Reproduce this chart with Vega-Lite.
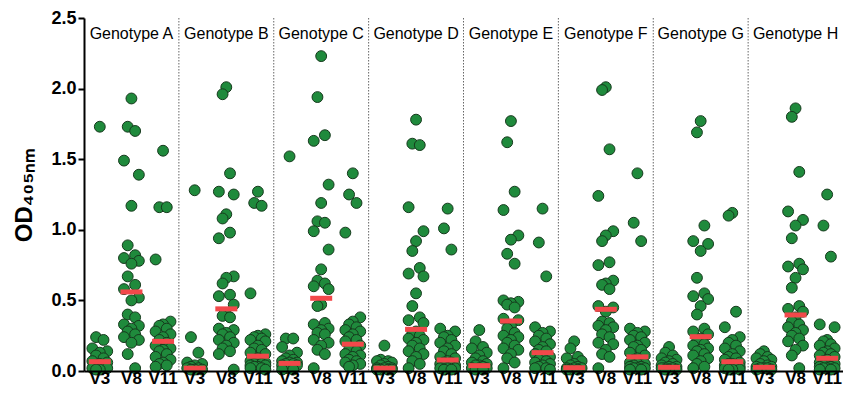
{
  "$schema": "https://vega.github.io/schema/vega-lite/v6.json",
  "width": 759,
  "height": 353,
  "autosize": {"type": "none"},
  "padding": {"left": 84, "top": 18, "right": 0, "bottom": 26},
  "background": "white",
  "config": {"view": {"stroke": null}, "font": "Liberation Sans"},
  "datasets": {
    "seps": [{"k": "A-V11"}, {"k": "B-V11"}, {"k": "C-V11"}, {"k": "D-V11"}, {"k": "E-V11"}, {"k": "F-V11"}, {"k": "G-V11"}],
    "labels": [
      {"k": "A-V8", "label": "Genotype A"}, {"k": "B-V8", "label": "Genotype B"},
      {"k": "C-V8", "label": "Genotype C"}, {"k": "D-V8", "label": "Genotype D"},
      {"k": "E-V8", "label": "Genotype E"}, {"k": "F-V8", "label": "Genotype F"},
      {"k": "G-V8", "label": "Genotype G"}, {"k": "H-V8", "label": "Genotype H"}
    ],
    "medians": [
      {"k": "A-V3", "med": 0.066}, {"k": "A-V8", "med": 0.56}, {"k": "A-V11", "med": 0.21},
      {"k": "B-V3", "med": 0.02}, {"k": "B-V8", "med": 0.44}, {"k": "B-V11", "med": 0.105},
      {"k": "C-V3", "med": 0.054}, {"k": "C-V8", "med": 0.515}, {"k": "C-V11", "med": 0.19},
      {"k": "D-V3", "med": 0.02}, {"k": "D-V8", "med": 0.295}, {"k": "D-V11", "med": 0.078},
      {"k": "E-V3", "med": 0.038}, {"k": "E-V8", "med": 0.354}, {"k": "E-V11", "med": 0.13},
      {"k": "F-V3", "med": 0.023}, {"k": "F-V8", "med": 0.437}, {"k": "F-V11", "med": 0.10},
      {"k": "G-V3", "med": 0.026}, {"k": "G-V8", "med": 0.243}, {"k": "G-V11", "med": 0.066},
      {"k": "H-V3", "med": 0.026}, {"k": "H-V8", "med": 0.397}, {"k": "H-V11", "med": 0.09}
    ],
    "points": [
      {"k": "A-V3", "od": [1.73, 0.24, 0.22, 0.16, 0.14, 0.13, 0.11, 0.09, 0.07, 0.06, 0.05, 0.04, 0.03, 0.02, 0.02, 0.01, 0.01]},
      {"k": "A-V8", "od": [1.93, 1.73, 1.70, 1.49, 1.39, 1.17, 0.89, 0.82, 0.80, 0.78, 0.76, 0.67, 0.61, 0.58, 0.52, 0.50, 0.40, 0.38, 0.33, 0.32, 0.30, 0.28, 0.26, 0.24, 0.22, 0.20, 0.12, 0.02]},
      {"k": "A-V11", "od": [1.56, 1.16, 1.16, 0.79, 0.35, 0.33, 0.32, 0.30, 0.28, 0.26, 0.24, 0.22, 0.20, 0.18, 0.16, 0.15, 0.14, 0.12, 0.10, 0.08, 0.06, 0.05, 0.04, 0.03]},
      {"k": "B-V3", "od": [1.28, 0.24, 0.13, 0.06, 0.05, 0.04, 0.03, 0.02, 0.02, 0.01, 0.01, 0.01]},
      {"k": "B-V8", "od": [2.01, 1.96, 1.40, 1.27, 1.25, 1.11, 1.08, 0.98, 0.94, 0.67, 0.66, 0.62, 0.54, 0.53, 0.47, 0.40, 0.39, 0.38, 0.30, 0.29, 0.27, 0.26, 0.24, 0.22, 0.20, 0.18, 0.16, 0.14, 0.12, 0.01]},
      {"k": "B-V11", "od": [1.27, 1.19, 1.17, 0.55, 0.26, 0.25, 0.24, 0.23, 0.22, 0.21, 0.18, 0.16, 0.15, 0.13, 0.12, 0.09, 0.08, 0.08, 0.07, 0.06, 0.06, 0.05, 0.05, 0.04, 0.04, 0.03, 0.03, 0.02, 0.02, 0.01]},
      {"k": "C-V3", "od": [1.52, 0.23, 0.23, 0.17, 0.13, 0.11, 0.09, 0.08, 0.07, 0.06, 0.06, 0.05, 0.05, 0.04, 0.04, 0.03, 0.02, 0.01, 0.01]},
      {"k": "C-V8", "od": [2.23, 1.94, 1.67, 1.63, 1.32, 1.19, 1.06, 1.05, 0.99, 0.86, 0.72, 0.64, 0.62, 0.60, 0.58, 0.47, 0.46, 0.34, 0.33, 0.30, 0.29, 0.27, 0.26, 0.22, 0.20, 0.18, 0.15, 0.12, 0.02]},
      {"k": "C-V11", "od": [1.40, 1.25, 1.19, 0.98, 0.38, 0.35, 0.33, 0.31, 0.29, 0.28, 0.26, 0.24, 0.22, 0.21, 0.18, 0.16, 0.15, 0.14, 0.12, 0.11, 0.10, 0.08, 0.07, 0.06, 0.05, 0.04, 0.03]},
      {"k": "D-V3", "od": [0.18, 0.08, 0.07, 0.07, 0.06, 0.05, 0.04, 0.03, 0.02, 0.02, 0.02, 0.01, 0.01, 0.01, 0.01]},
      {"k": "D-V8", "od": [1.78, 1.61, 1.60, 1.16, 0.99, 0.92, 0.85, 0.73, 0.69, 0.67, 0.55, 0.46, 0.38, 0.36, 0.34, 0.28, 0.27, 0.25, 0.23, 0.22, 0.20, 0.18, 0.16, 0.14, 0.12, 0.10, 0.07, 0.05, 0.02]},
      {"k": "D-V11", "od": [1.15, 1.01, 0.86, 0.30, 0.28, 0.25, 0.24, 0.22, 0.20, 0.18, 0.16, 0.14, 0.12, 0.10, 0.09, 0.07, 0.06, 0.06, 0.05, 0.04, 0.04, 0.03, 0.03, 0.02, 0.02, 0.02, 0.01, 0.01]},
      {"k": "E-V3", "od": [0.29, 0.21, 0.17, 0.16, 0.13, 0.11, 0.09, 0.07, 0.06, 0.05, 0.04, 0.04, 0.03, 0.02, 0.02, 0.02, 0.01, 0.01]},
      {"k": "E-V8", "od": [1.77, 1.62, 1.27, 1.14, 0.96, 0.93, 0.83, 0.76, 0.50, 0.49, 0.48, 0.47, 0.45, 0.37, 0.36, 0.32, 0.30, 0.27, 0.25, 0.24, 0.22, 0.20, 0.18, 0.16, 0.15, 0.12, 0.09, 0.06, 0.02]},
      {"k": "E-V11", "od": [1.15, 0.91, 0.67, 0.31, 0.28, 0.27, 0.25, 0.23, 0.21, 0.19, 0.17, 0.15, 0.14, 0.12, 0.10, 0.09, 0.08, 0.07, 0.06, 0.05, 0.04, 0.03, 0.02, 0.02, 0.01]},
      {"k": "F-V3", "od": [0.21, 0.16, 0.10, 0.09, 0.07, 0.05, 0.04, 0.03, 0.02, 0.02, 0.02, 0.01, 0.01, 0.01]},
      {"k": "F-V8", "od": [2.01, 1.99, 1.57, 1.24, 0.99, 0.96, 0.92, 0.77, 0.75, 0.64, 0.62, 0.61, 0.58, 0.46, 0.45, 0.42, 0.35, 0.34, 0.32, 0.31, 0.29, 0.26, 0.24, 0.20, 0.19, 0.15, 0.12, 0.10, 0.02]},
      {"k": "F-V11", "od": [1.40, 1.05, 0.92, 0.30, 0.28, 0.27, 0.25, 0.24, 0.22, 0.20, 0.18, 0.17, 0.15, 0.13, 0.11, 0.09, 0.08, 0.07, 0.06, 0.05, 0.05, 0.04, 0.03, 0.03, 0.02, 0.02, 0.02, 0.01, 0.01]},
      {"k": "G-V3", "od": [0.17, 0.13, 0.11, 0.09, 0.08, 0.07, 0.06, 0.05, 0.04, 0.03, 0.03, 0.02, 0.02, 0.02, 0.01, 0.01, 0.01]},
      {"k": "G-V8", "od": [1.77, 1.69, 1.03, 0.92, 0.90, 0.85, 0.66, 0.55, 0.53, 0.51, 0.46, 0.40, 0.30, 0.28, 0.26, 0.23, 0.21, 0.19, 0.18, 0.16, 0.15, 0.14, 0.12, 0.11, 0.09, 0.07, 0.05, 0.03, 0.02]},
      {"k": "G-V11", "od": [1.12, 1.10, 0.42, 0.31, 0.24, 0.22, 0.20, 0.18, 0.16, 0.14, 0.12, 0.10, 0.09, 0.08, 0.06, 0.05, 0.05, 0.04, 0.04, 0.03, 0.03, 0.02, 0.02, 0.02, 0.01, 0.01, 0.01]},
      {"k": "H-V3", "od": [0.14, 0.12, 0.10, 0.09, 0.08, 0.07, 0.05, 0.04, 0.03, 0.03, 0.02, 0.02, 0.02, 0.01, 0.01]},
      {"k": "H-V8", "od": [1.86, 1.80, 1.41, 1.13, 1.07, 1.03, 0.94, 0.76, 0.74, 0.72, 0.66, 0.59, 0.46, 0.44, 0.42, 0.38, 0.35, 0.33, 0.31, 0.29, 0.27, 0.25, 0.23, 0.21, 0.18, 0.15, 0.11, 0.02]},
      {"k": "H-V11", "od": [1.25, 1.03, 0.81, 0.33, 0.31, 0.22, 0.21, 0.19, 0.18, 0.16, 0.14, 0.13, 0.12, 0.11, 0.10, 0.08, 0.07, 0.06, 0.06, 0.05, 0.04, 0.04, 0.03, 0.03, 0.02, 0.02, 0.02, 0.01, 0.01]}
    ]
  },
  "layer": [
    {
      "data": {"name": "seps"},
      "mark": {"type": "rule", "strokeDash": [1.5, 1.5], "color": "#666666", "strokeWidth": 1},
      "encoding": {
        "x": {"field": "k", "type": "nominal", "bandPosition": 1}
      }
    },
    {
      "data": {"name": "points"},
      "transform": [
        {"flatten": ["od"]},
        {"window": [{"op": "row_number", "as": "rn"}], "sort": [{"field": "od", "order": "descending"}], "groupby": ["k"]},
        {"calculate": "datum.rn % 5", "as": "slot"}
      ],
      "mark": {"type": "circle", "fill": "#1f8a3c", "stroke": "#163a1d", "strokeWidth": 1, "size": 118, "opacity": 1},
      "encoding": {
        "x": {
          "field": "k", "type": "nominal",
          "scale": {
            "domain": ["A-V3", "A-V8", "A-V11", "B-V3", "B-V8", "B-V11", "C-V3", "C-V8", "C-V11", "D-V3", "D-V8", "D-V11", "E-V3", "E-V8", "E-V11", "F-V3", "F-V8", "F-V11", "G-V3", "G-V8", "G-V11", "H-V3", "H-V8", "H-V11"],
            "paddingInner": 0, "paddingOuter": 0
          },
          "axis": {
            "title": null, "labelAngle": 0, "ticks": false, "zindex": 1,
            "bandPosition": 0.5, "labelAlign": "center",
            "labelExpr": "split(datum.label, '-')[1]",
            "domainColor": "black", "domainWidth": 2,
            "labelFontSize": 17, "labelFontWeight": "bold", "labelColor": "black",
            "labelPadding": 7, "labelFont": "Liberation Sans"
          }
        },
        "xOffset": {"field": "slot", "type": "nominal", "scale": {"type": "point", "domain": [4, 2, 1, 3, 0], "range": [6.5, 25.1]}},
        "y": {
          "field": "od", "type": "quantitative",
          "scale": {"domain": [0, 2.5], "nice": false},
          "axis": {
            "values": [0, 0.5, 1, 1.5, 2, 2.5], "format": ".1f", "grid": false, "zindex": 1,
            "title": "OD₄₀₅ₙₘ", "titleFontSize": 24, "titleFontWeight": "bold", "titleColor": "black", "titleFont": "Liberation Sans", "titlePadding": 14,
            "domainColor": "black", "domainWidth": 2, "tickColor": "black", "tickWidth": 2, "tickSize": 6,
            "labelFontSize": 18, "labelFontWeight": "bold", "labelColor": "black", "labelPadding": 2, "labelFont": "Liberation Sans"
          }
        }
      }
    },
    {
      "data": {"name": "medians"},
      "mark": {"type": "tick", "color": "#f2484a", "thickness": 5, "size": 22, "orient": "horizontal", "opacity": 1},
      "encoding": {
        "x": {"field": "k", "type": "nominal"},
        "y": {"field": "med", "type": "quantitative"}
      }
    },
    {
      "data": {"name": "labels"},
      "mark": {"type": "text", "fontSize": 16, "font": "Liberation Sans", "color": "black", "baseline": "middle", "align": "center"},
      "encoding": {
        "x": {"field": "k", "type": "nominal"},
        "y": {"datum": 2.39},
        "text": {"field": "label"}
      }
    }
  ]
}
